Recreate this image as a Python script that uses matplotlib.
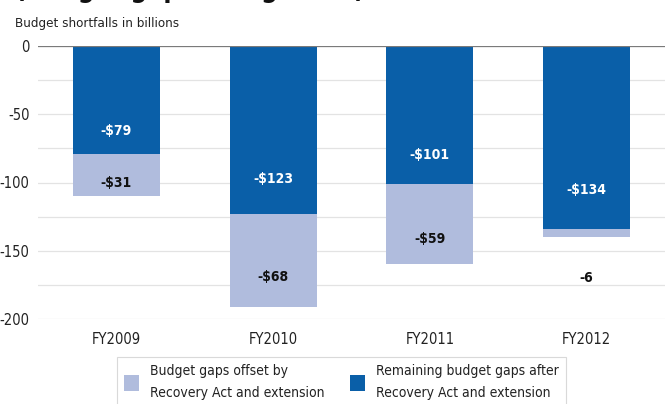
import matplotlib
matplotlib.use("Agg")
import matplotlib.pyplot as plt
from matplotlib.patches import Patch
from matplotlib import font_manager
import numpy as np

# pick a narrow face if one is around
cond = [f for f in font_manager.fontManager.ttflist
        if f.stretch in ('condensed', 'semi-condensed', 'extra-condensed') or 'Narrow' in f.name
        or 'Condensed' in f.name]
plt.rcParams['font.family'] = ['Liberation Sans', 'DejaVu Sans']
if cond:
    plt.rcParams['font.family'] = [cond[0].name, 'DejaVu Sans']
    plt.rcParams['font.stretch'] = cond[0].stretch

years = ['FY2009', 'FY2010', 'FY2011', 'FY2012']
remaining = [-79, -123, -101, -134]   # after Recovery Act and extension
offset = [-31, -68, -59, -6]          # offset by Recovery Act and extension
remaining_labels = ['-$79', '-$123', '-$101', '-$134']
offset_labels = ['-$31', '-$68', '-$59', '-6']

dark = '#0a5fa8'
light = '#b0bcdd'

fig = plt.figure(figsize=(6.65, 4.04), dpi=100)
ax = fig.add_axes([38 / 665, 1 - 319 / 404, 1 - 38 / 665, (319 - 46) / 404])

x = np.arange(len(years))
w = 0.555

ax.bar(x, remaining, width=w, color=dark, zorder=3)
ax.bar(x, offset, width=w, bottom=remaining, color=light, zorder=3)

# labels
for i in range(len(years)):
    ax.text(x[i], remaining[i] * 0.79, remaining_labels[i], ha='center', va='center',
            color='white', fontsize=10, fontweight='bold', zorder=4)
    total = remaining[i] + offset[i]
    if abs(offset[i]) > 15:
        ypos = remaining[i] + offset[i] * 0.68
    else:
        ypos = total - 30
    ax.text(x[i], ypos, offset_labels[i], ha='center', va='center',
            color='#111111', fontsize=10, fontweight='bold', zorder=4)

ax.set_ylim(-200, 0)
ax.set_xlim(-0.5, 3.5)
ax.set_yticks([0, -50, -100, -150, -200])
ax.set_yticklabels(['0', '-50', '-100', '-150', '-200'])
for yv in np.arange(-200, 1, 25):
    ax.axhline(yv, color='#e3e3e3', lw=0.9, zorder=1)
ax.axhline(0, color='#7a7a7a', lw=1.6, zorder=5)

ax.set_xticks(x)
ax.set_xticklabels(years)
ax.tick_params(axis='both', length=0, labelsize=10.5, colors='#222222')
ax.tick_params(axis='x', pad=9)
ax.tick_params(axis='y', pad=6)
for s in ax.spines.values():
    s.set_visible(False)

# heading, mostly cropped off the top as in the source image
fig.text(15 / 665, 1.0 + 3 / 404, '(Budget gaps being filled)', fontsize=19,
         fontweight='bold', color='#111111', va='baseline', ha='left')
fig.text(15 / 665, 1 - 23 / 404, 'Budget shortfalls in billions', fontsize=9.6,
         color='#222222', va='center', ha='left')

handles = [Patch(facecolor=light, edgecolor='none'), Patch(facecolor=dark, edgecolor='none')]
labels = ['Budget gaps offset by\nRecovery Act and extension',
          'Remaining budget gaps after\nRecovery Act and extension']
leg = fig.legend(handles, labels, ncol=2, loc='upper left',
                 bbox_to_anchor=(110 / 665, 1 - 350 / 404), frameon=True, fancybox=False,
                 edgecolor='#d0d0d0', fontsize=10, handlelength=1.1, handleheight=1.4,
                 columnspacing=1.8, handletextpad=0.8, borderpad=0.5)
leg.get_frame().set_linewidth(0.8)
for t in leg.get_texts():
    t.set_color('#222222')
    t.set_linespacing(1.75)

fig.savefig('out.png', dpi=100)
